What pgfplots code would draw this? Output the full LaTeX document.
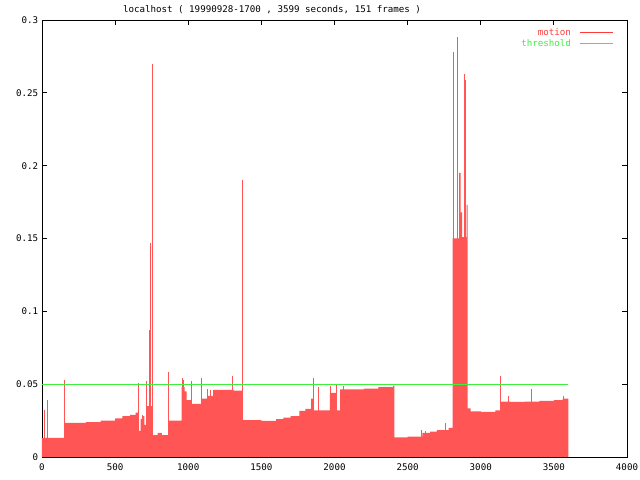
\documentclass[border=0pt]{standalone}
\usepackage{pgfplots}
\pgfplotsset{compat=1.18}
\usepackage{fontspec}
\setmainfont{DejaVu Sans Mono}
\definecolor{mred}{RGB}{255,85,85}
\definecolor{lred}{RGB}{255,60,60}
\definecolor{mgreen}{RGB}{60,240,60}
\begin{document}
\fontsize{9.2}{11}\selectfont
\begin{tikzpicture}
\path[use as bounding box] (0,0) rectangle (640bp,480bp);
\begin{axis}[
  at={(42bp,23bp)}, anchor=south west,
  scale only axis, width=585bp, height=437bp,
  xmin=0, xmax=4000, ymin=0, ymax=0.3,
  axis line style={line width=0.9bp},
  tick style={line width=0.9bp, black},
  tick align=inside, major tick length=5bp,
  xtick={0,500,1000,1500,2000,2500,3000,3500,4000},
  xticklabels={0,500,1000,1500,2000,2500,3000,3500,4000},
  ytick={0,0.05,0.1,0.15,0.2,0.25,0.3},
  yticklabels={0,0.05,0.1,0.15,0.2,0.25,0.3},
  /pgf/number format/assume math mode=true,
  ticklabel style={font=\fontsize{9.2}{11}\selectfont},
  xticklabel style={yshift=-3bp},
  yticklabel style={xshift=-0.5bp},
  legend plot pos=right,
  legend cell align=right,
  legend style={draw=none, fill=none, at={(rel axis cs:0.977,0.986)}, anchor=north east,
     font=\fontsize{9.2}{11}\selectfont, row sep=-1bp, inner sep=0pt},
  legend image code/.code={\path[draw=none, fill=none] (0bp,0bp) rectangle (1bp,0.1bp); \draw[#1] (7bp,0bp) -- (40bp,0bp);},
  clip=true,
]
% base level of motion (piecewise constant)
\addplot[fill=mred, draw=none, const plot, forget plot] table {
x y
0 0.0132
157 0.0235
300 0.0240
400 0.0250
500 0.0265
550 0.0280
600 0.0290
640 0.0304
662 0.0180
675 0.0260
690 0.0280
700 0.0220
714 0.0350
757 0.0151
790 0.0165
820 0.0150
864 0.0249
955 0.0480
975 0.0450
989 0.0390
1023 0.0364
1092 0.0400
1130 0.0420
1170 0.0460
1310 0.0455
1372 0.0254
1500 0.0248
1600 0.0260
1650 0.0270
1700 0.0280
1760 0.0316
1800 0.0330
1840 0.0400
1855 0.0320
1969 0.0440
2015 0.0320
2038 0.0464
2200 0.0470
2300 0.0480
2400 0.0490
2410 0.0135
2500 0.0140
2600 0.0165
2653 0.0174
2700 0.0185
2780 0.0200
2808 0.1500
2852 0.1950
2862 0.1680
2872 0.1510
2903 0.1730
2911 0.0334
2930 0.0314
3000 0.0310
3100 0.0320
3137 0.0380
3200 0.0378
3300 0.0380
3400 0.0385
3500 0.0390
3560 0.0400
3599 0.0400
} \closedcycle;
% individual spikes of motion
\addplot[ycomb, mred, line width=1bp, mark=none, forget plot] coordinates {
(14,0.032) (41,0.039) (157,0.053) (659,0.051) (685,0.029) (713,0.052)
(735,0.087) (745,0.147) (754,0.270) (864,0.0585) (960,0.054) (970,0.053)
(1023,0.052) (1092,0.054) (1130,0.047) (1150,0.046) (1301,0.0556) (1370,0.190)
(1856,0.054) (1890,0.048) (1975,0.049) (2012,0.050) (2060,0.049)
(2594,0.0185) (2620,0.018) (2761,0.0235)
(2817,0.278) (2838,0.288) (2888,0.263) (2899,0.2585)
(3137,0.0556) (3189,0.042) (3348,0.047) (3564,0.042)
};
\addplot[mgreen, line width=1bp, forget plot] coordinates {(0,0.05) (3599,0.05)};
\addlegendimage{lred, line width=0.8bp}
\addlegendentry{\textcolor{lred}{motion}}
\addlegendimage{mgreen, line width=0.8bp}
\addlegendentry{\textcolor{mgreen}{threshold}}
\end{axis}
\node[font=\fontsize{9.2}{11}\selectfont] at (272bp,470bp) {localhost ( 19990928-1700 , 3599 seconds, 151 frames )};
\end{tikzpicture}
\end{document}
